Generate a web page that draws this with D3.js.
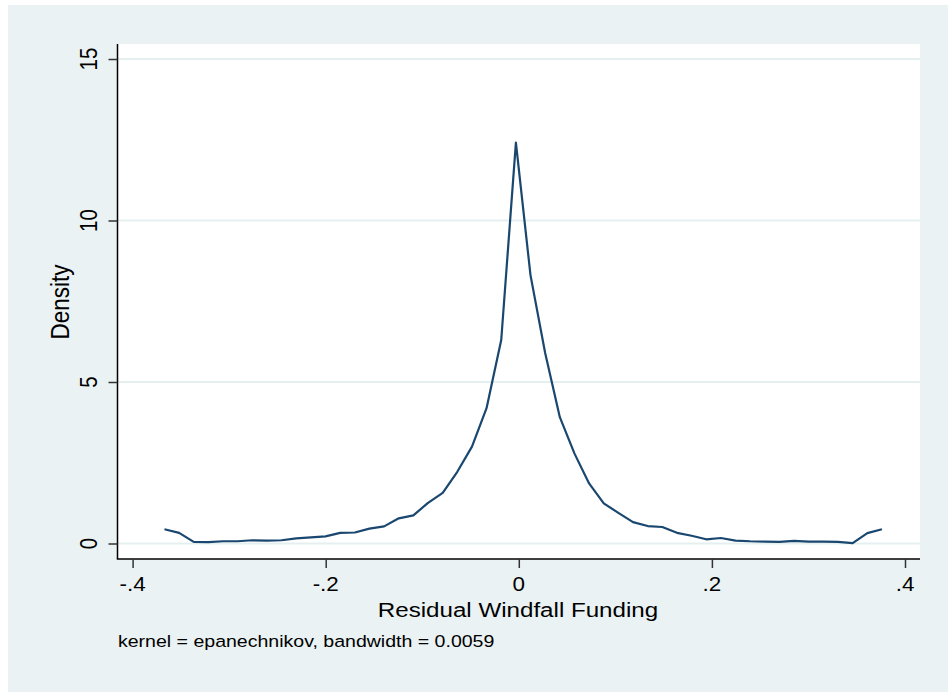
<!DOCTYPE html>
<html>
<head>
<meta charset="utf-8">
<script src="https://cdn.jsdelivr.net/npm/d3@7"></script>
<style>
  html, body { margin: 0; padding: 0; background: #ffffff; }
  svg { display: block; }
  text { font-family: "Liberation Sans", Arial, Helvetica, sans-serif; fill: #000; }
</style>
</head>
<body>
<svg id="chart" width="948" height="692"></svg>
<script>
// Kernel density estimate of residual windfall funding (50 evaluation points)
const gridX = [
  -0.3670, -0.3518, -0.3367, -0.3215, -0.3063, -0.2912, -0.2760, -0.2608, -0.2457, -0.2305,
  -0.2153, -0.2002, -0.1850, -0.1698, -0.1547, -0.1395, -0.1243, -0.1092, -0.0940, -0.0788,
  -0.0637, -0.0485, -0.0334, -0.0182, -0.0030,  0.0121,  0.0273,  0.0425,  0.0576,  0.0728,
   0.0880,  0.1031,  0.1183,  0.1335,  0.1486,  0.1638,  0.1790,  0.1941,  0.2093,  0.2245,
   0.2396,  0.2548,  0.2700,  0.2851,  0.3003,  0.3155,  0.3306,  0.3458,  0.3610,  0.3761
];
const density = [
  0.44, 0.33, 0.05, 0.04, 0.07, 0.07, 0.10, 0.09, 0.10, 0.16,
  0.19, 0.22, 0.33, 0.34, 0.46, 0.53, 0.78, 0.87, 1.26, 1.57,
  2.22, 3.00, 4.19, 6.30, 12.41, 8.31, 5.90, 3.91, 2.79, 1.86,
  1.24, 0.95, 0.66, 0.54, 0.51, 0.33, 0.24, 0.13, 0.17, 0.09,
  0.07, 0.06, 0.05, 0.08, 0.06, 0.06, 0.05, 0.01, 0.32, 0.44
];
const xTicks = [-0.4, -0.2, 0, 0.2, 0.4];
const xTickLabels = ["-.4", "-.2", "0", ".2", ".4"];
const yTicks = [0, 5, 10, 15];
const yTickLabels = ["0", "5", "10", "15"];
const xTitle = "Residual Windfall Funding";
const yTitle = "Density";
const note = "kernel = epanechnikov, bandwidth = 0.0059";

const svg = d3.select("#chart");
const W = 948, H = 692;

// graph region
svg.append("rect").attr("x", 8).attr("y", 5).attr("width", W - 8).attr("height", H - 5)
  .attr("fill", "#eaf2f3");

// plot region
const plot = { left: 118, right: 920, top: 44, bottom: 559 };
svg.append("rect").attr("x", plot.left).attr("y", plot.top)
  .attr("width", plot.right - plot.left).attr("height", plot.bottom - plot.top)
  .attr("fill", "#ffffff");

const x = d3.scaleLinear().domain([-0.4, 0.4]).range([132.6, 905]);
const y = d3.scaleLinear().domain([0, 15]).range([543.5, 59]);

// horizontal gridlines
svg.append("g").selectAll("line").data(yTicks).join("line")
  .attr("x1", plot.left).attr("x2", plot.right)
  .attr("y1", d => y(d)).attr("y2", d => y(d))
  .attr("stroke", "#e6eff0").attr("stroke-width", 2);

// density curve
const line = d3.line().x((d, i) => x(gridX[i])).y(d => y(d));
svg.append("path").datum(density)
  .attr("d", line)
  .attr("fill", "none")
  .attr("stroke", "#1a476f")
  .attr("stroke-width", 2.2)
  .attr("stroke-linejoin", "round");

// y axis
const yAxis = d3.axisLeft(y).tickValues(yTicks).tickSize(9).tickFormat("");
const gy = svg.append("g").attr("transform", `translate(${plot.left - 0.5},0)`).call(yAxis);
gy.select(".domain").attr("d", `M0,${plot.top}V${plot.bottom}`).attr("stroke", "#000").attr("stroke-width", 1.5);
gy.selectAll(".tick line").attr("stroke", "#333").attr("stroke-width", 1.5);

// x axis
const xAxis = d3.axisBottom(x).tickValues(xTicks).tickSize(9).tickFormat("");
const gx = svg.append("g").attr("transform", `translate(0,${plot.bottom})`).call(xAxis);
gx.select(".domain").attr("d", `M${plot.left - 1.2},0H${plot.right}`).attr("stroke", "#000").attr("stroke-width", 1.5);
gx.selectAll(".tick line").attr("stroke", "#333").attr("stroke-width", 1.5);

const sx = 1.15; // horizontal stretch of lettering

// y tick labels (rotated)
svg.append("g").selectAll("text").data(yTicks).join("text")
  .attr("transform", d => `translate(97,${y(d)}) scale(${sx},1) rotate(-90)`)
  .attr("text-anchor", "middle")
  .attr("font-size", 20.5)
  .text((d, i) => yTickLabels[i]);

// x tick labels
svg.append("g").selectAll("text").data(xTicks).join("text")
  .attr("transform", d => `translate(${x(d)},591) scale(${sx},1)`)
  .attr("text-anchor", "middle")
  .attr("font-size", 19.5)
  .text((d, i) => xTickLabels[i]);

// axis titles
svg.append("text")
  .attr("transform", `translate(518,617) scale(${sx},1)`)
  .attr("text-anchor", "middle").attr("font-size", 21)
  .text(xTitle);

svg.append("text")
  .attr("transform", `translate(69,302) scale(${sx},1) rotate(-90)`)
  .attr("text-anchor", "middle").attr("font-size", 22.5)
  .text(yTitle);

// note
svg.append("text")
  .attr("transform", `translate(118,647) scale(${sx},1)`)
  .attr("font-size", 17)
  .text(note);
</script>
</body>
</html>
